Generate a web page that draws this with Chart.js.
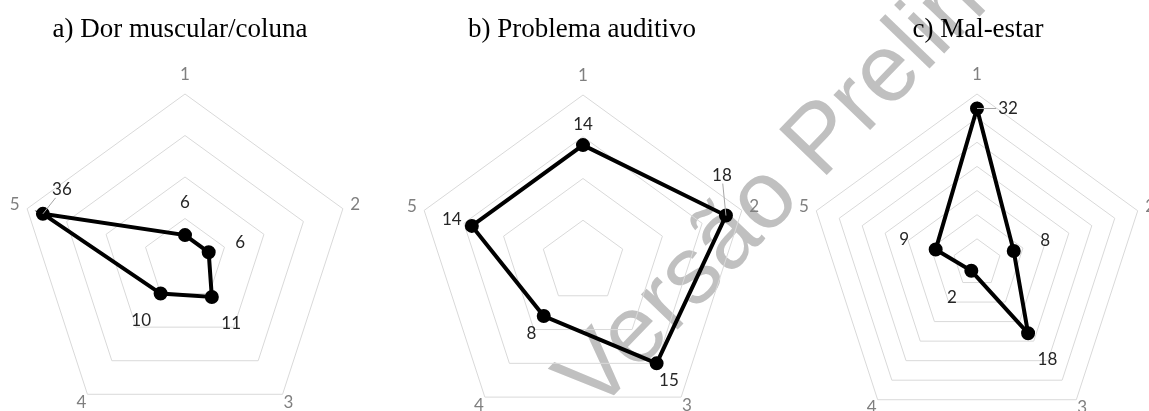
<!DOCTYPE html>
<html>
<head>
<meta charset="utf-8">
<script src="https://cdn.jsdelivr.net/npm/chart.js@4.4.0/dist/chart.umd.min.js"></script>
<style>
  html, body { margin: 0; padding: 0; background: #fff; }
  #page { position: relative; width: 1149px; height: 411px; overflow: hidden; }
  .box { position: absolute; top: 0; width: 383px; height: 411px; }
  #wm {
    position: absolute; left: 595px; top: 334px;
    font: 96px "Liberation Sans", Arial, sans-serif; line-height: 96px;
    color: #c0c0c0; white-space: nowrap;
    transform-origin: 0 81px; transform: rotate(-46deg);
  }
</style>
</head>
<body>
<div id="page">
  <div id="wm">Versão Preliminar</div>
  <div class="box" style="left:0"><canvas id="chartA"></canvas></div>
  <div class="box" style="left:383px"><canvas id="chartB"></canvas></div>
  <div class="box" style="left:766px"><canvas id="chartC"></canvas></div>
</div>
<script>
// axes of the radar (same for the three panels)
const axisLabels = ['1', '2', '3', '4', '5'];

// values per panel
const dorMuscular = [6, 6, 11, 10, 36];
const problemaAuditivo = [14, 18, 15, 8, 14];
const malEstar = [32, 8, 18, 2, 9];

const titles = ['a) Dor muscular/coluna', 'b) Problema auditivo', 'c) Mal-estar'];

// draws axis names and value labels around the radar
const radarText = {
    id: 'radarText',
    beforeDatasetsDraw(chart) {
        const scale = chart.scales.r;
        const ctx = chart.ctx;
        const R = scale.drawingArea;
        ctx.save();
        ctx.font = '17px Lato';
        ctx.fillStyle = '#7f7f7f';
        ctx.textAlign = 'center';
        ctx.textBaseline = 'middle';
        chart.data.labels.forEach((lab, i) => {
            const gap = i === 0 ? 19 : (i === 1 || i === 4) ? 13 : 10;
            const p = scale.getPointPosition(i, R + gap);
            ctx.fillText(lab, p.x, p.y);
        });
        ctx.restore();
    },
    afterDatasetsDraw(chart, args, opts) {
        const scale = chart.scales.r;
        const ctx = chart.ctx;
        const meta = chart.getDatasetMeta(0);
        const values = chart.data.datasets[0].data;
        ctx.save();
        ctx.font = '17px Lato';
        ctx.textAlign = 'center';
        ctx.textBaseline = 'middle';
        meta.data.forEach((pt, i) => {
            const txt = String(values[i]);
            let lx, ly;
            const moved = opts.moved && opts.moved[i];
            if (moved) {
                lx = pt.x + moved[0];
                ly = pt.y + moved[1];
                // leader line to the label box
                const w = ctx.measureText(txt).width / 2 + 2;
                const h = 8;
                const dx = pt.x - lx, dy = pt.y - ly;
                const t = Math.min(dx ? w / Math.abs(dx) : 1e9, dy ? h / Math.abs(dy) : 1e9);
                ctx.strokeStyle = '#a6a6a6';
                ctx.lineWidth = 1;
                ctx.beginPath();
                ctx.moveTo(pt.x, pt.y);
                ctx.lineTo(lx + dx * t, ly + dy * t);
                ctx.stroke();
            } else {
                const dx = pt.x - scale.xCenter, dy = pt.y - scale.yCenter;
                const len = Math.hypot(dx, dy) || 1;
                lx = pt.x + dx / len * opts.dist;
                ly = pt.y + dy / len * opts.dist;
            }
            ctx.fillStyle = '#262626';
            ctx.fillText(txt, lx, ly);
        });
        ctx.restore();
    }
};

function makeRadar(id, title, values, max, step, padding, center, labelOpts) {
    return new Chart(document.getElementById(id), {
        type: 'radar',
        data: {
            labels: axisLabels,
            datasets: [{
                data: values,
                borderColor: '#000',
                borderWidth: 4,
                pointRadius: 5,
                pointBackgroundColor: '#000',
                pointBorderColor: '#000',
                fill: false
            }]
        },
        options: {
            responsive: true,
            maintainAspectRatio: false,
            animation: false,
            layout: { padding: padding },
            plugins: {
                legend: { display: false },
                tooltip: { enabled: false },
                title: {
                    display: true,
                    text: title,
                    color: '#000',
                    font: { family: 'Liberation Serif', size: 27, weight: 'normal' },
                    padding: { top: 14, bottom: 0 }
                },
                radarText: labelOpts
            },
            scales: {
                r: {
                    min: 0,
                    max: max,
                    ticks: { display: false, stepSize: step },
                    angleLines: { display: false },
                    grid: { color: '#d9d9d9', lineWidth: 1 },
                    pointLabels: { display: false },
                    afterFit: (scale) => {
                        scale.xCenter = center[0];
                        scale.yCenter = center[1];
                        scale.drawingArea = center[2];
                    }
                }
            }
        },
        plugins: [radarText]
    });
}

makeRadar('chartA', titles[0], dorMuscular, 40, 10, { right: 23 }, [185, 260, 166],
    { dist: 33, moved: { 4: [19, -24] } });
makeRadar('chartB', titles[1], problemaAuditivo, 20, 5, { left: 15 }, [200, 262, 167],
    { dist: 21, moved: { 1: [-4, -40] } });
makeRadar('chartC', titles[2], malEstar, 35, 5, { left: 41 }, [211, 263, 169],
    { dist: 33, moved: { 0: [31, 0] } });
</script>
</body>
</html>
